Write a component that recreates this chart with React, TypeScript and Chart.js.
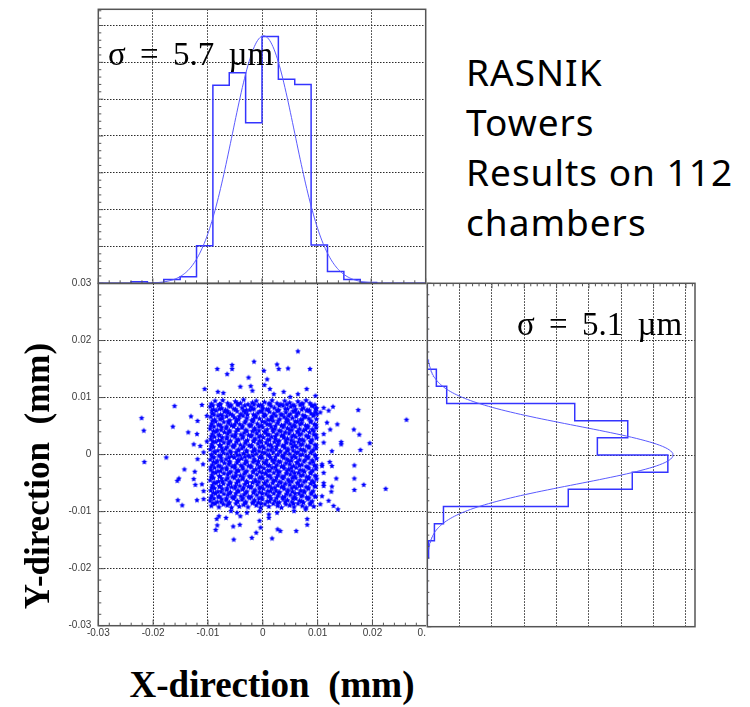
import React, { useEffect, useRef } from "react";
import { Chart, registerables } from "chart.js";

Chart.register(...registerables);

// ---------- data ----------

// Histogram bin edges in µm (3 µm bins over ±30 µm)
const binEdgesUm = [-30, -27, -24, -21, -18, -15, -12, -9, -6, -3, 0, 3, 6, 9, 12, 15, 18, 21, 24, 27, 30];
// Entries per bin, X projection (top panel)
const xCounts = [0, 0, 2, 0, 5, 9, 51, 269, 286, 218, 335, 277, 270, 52, 16, 5, 1, 0, 0, 0];
// Entries per bin, Y projection (right panel)
const yCounts = [0, 0, 0, 0, 2, 11, 25, 218, 317, 372, 263, 310, 228, 30, 14, 0, 0, 0, 0, 0];

// Gaussian fits of the two projections
const xFit = { amplitude: 336, meanUm: 0.3, sigmaUm: 5.7, fromUm: -24, toUm: 21 };
const yFit = { amplitude: 380, meanUm: 0, sigmaUm: 5.1, fromUm: -16.5, toUm: 16.7 };

// Axis values (mm for positions, entries for the projections)
const mmTickLabels = [-0.03, -0.02, -0.01, 0, 0.01, 0.02, 0.03];
const mmGrid = [-0.02, -0.01, 0, 0.01, 0.02];
const countGrid = [50, 100, 150, 200, 250, 300, 350, 400];
const xHistMax = 372;
const yHistMax = 414;

const titleLines = ["RASNIK", "Towers", "Results on 112", "chambers"];
const xAxisTitle = "X-direction  (mm)";
const yAxisTitle = "Y-direction  (mm)";

// Tower residuals (x, y) in units of 0.1 µm – scattered points outside the core
const outerPts: [number, number][] = [
  [-221, 64], [-217, 42], [-216, -13], [-176, -5], [-161, 85], [-164, 49], [-136, 39], [-131, 67],
  [-143, -26], [-153, -42], [-156, -46], [-155, -80], [-147, -89], [-124, -30], [-126, -43], [-123, -53],
  [-119, -8], [-120, -80], [-126, 18], [-120, 36], [-119, 59], [-111, 87], [-106, 115], [-108, 4],
  [-109, -17], [-111, -52], [-108, -78], [-108, -64], [-102, 23], [-114, 15], [-102, 68], [-83, 150],
  [-65, 141], [-56, 157], [-56, 150], [-82, 110], [-72, 108], [-41, 119], [-26, 135], [-16, 163],
  [-22, 120], [-19, 112], [2, 147], [8, 132], [3, 122], [13, 115], [26, 158], [29, 150],
  [46, 151], [64, 181], [86, 150], [80, 115], [64, 106], [38, 110], [20, 106], [50, 101],
  [96, 103], [99, 71], [105, 74], [111, 82], [120, 77], [128, 84], [117, 56], [111, 36],
  [123, 44], [111, 21], [136, 53], [126, 6], [143, 22], [143, 18], [166, 44], [176, 35],
  [174, 78], [178, 8], [195, 20], [262, 61], [167, -19], [167, -42], [167, -62], [184, -53],
  [224, -60], [137, -96], [134, -42], [126, -56], [125, -65], [120, -81], [129, -90], [126, -20],
  [122, -13], [111, -32], [111, -55], [108, -17], [108, -73], [111, -50], [105, -87], [108, -20],
  [81, -113], [81, -123], [61, -134], [32, -134], [27, -131], [17, -147], [11, -105], [11, -111],
  [-6, -116], [-4, -128], [-12, -137], [-20, -146], [-53, -149], [-54, -126], [-42, -123], [-41, -108],
  [-67, -111], [-80, -108], [-84, -113], [-83, -124], [-86, -132], [-58, -99], [-47, -102], [-29, -102],
  [-6, -99], [26, -102], [57, -99], [78, -96],
];

// Tower residuals (x, y) in units of 0.1 µm – dense core within about ±10 µm
const corePts: [number, number][] = [
  [-94, 89], [-87, 94], [-79, 88], [-73, 95], [-64, 90], [-58, 87], [-50, 93], [-41, 90], [-35, 96], [-27, 88], [-19, 91], [-12, 94], [-4, 87], [3, 92], [11, 89], [17, 95], [26, 90], [33, 88], [40, 94], [49, 91], [55, 87], [64, 93], [71, 89], [79, 95], [86, 90], [95, 87],
  [-91, 86], [-77, 88], [-62, 85], [-46, 89], [-33, 86], [-16, 88], [-1, 85], [13, 89], [30, 86], [44, 88], [58, 85], [73, 89], [89, 86],
  [-96, 84], [-90, 79], [-81, 86], [-75, 81], [-68, 78], [-59, 85], [-53, 80], [-45, 87], [-38, 82], [-30, 78], [-22, 84], [-16, 80], [-8, 86], [0, 81], [7, 79], [15, 85], [21, 82], [29, 78], [37, 86], [45, 80], [51, 84], [60, 79], [68, 87], [74, 82], [82, 78], [91, 85], [98, 81],
  [-93, 77], [-79, 80], [-64, 76], [-50, 79], [-35, 77], [-19, 80], [-5, 76], [10, 79], [26, 77], [41, 80], [55, 76], [71, 79], [85, 77], [96, 80],
  [-92, 72], [-85, 77], [-77, 70], [-70, 75], [-63, 73], [-55, 69], [-47, 76], [-40, 71], [-32, 74], [-24, 78], [-17, 70], [-9, 73], [-2, 76], [5, 69], [12, 75], [20, 72], [28, 77], [35, 70], [42, 74], [50, 71], [58, 76], [65, 73], [73, 69], [80, 77], [88, 72], [96, 75],
  [-89, 70], [-74, 68], [-59, 71], [-43, 67], [-28, 70], [-13, 68], [2, 71], [17, 67], [33, 70], [47, 68], [62, 71], [78, 67], [93, 70],
  [-95, 66], [-88, 61], [-82, 68], [-74, 63], [-66, 67], [-60, 60], [-52, 65], [-44, 62], [-36, 68], [-29, 64], [-20, 60], [-13, 66], [-6, 63], [2, 67], [9, 61], [16, 65], [24, 68], [31, 62], [39, 66], [46, 60], [54, 64], [61, 67], [69, 61], [76, 66], [84, 63], [92, 68], [98, 62],
  [-92, 59], [-78, 62], [-63, 58], [-48, 61], [-31, 59], [-17, 62], [-1, 58], [14, 61], [28, 59], [43, 62], [59, 58], [72, 61], [88, 59],
  [-93, 54], [-86, 58], [-78, 52], [-71, 57], [-62, 55], [-57, 51], [-48, 58], [-42, 53], [-33, 56], [-25, 52], [-18, 58], [-10, 54], [-3, 51], [4, 57], [13, 53], [19, 59], [27, 55], [34, 51], [43, 57], [49, 54], [57, 52], [63, 58], [71, 55], [78, 51], [87, 57], [94, 53],
  [-95, 50], [-81, 52], [-66, 49], [-51, 53], [-37, 50], [-21, 52], [-7, 49], [8, 53], [23, 50], [39, 52], [53, 49], [68, 53], [82, 50], [97, 52],
  [-96, 45], [-89, 49], [-83, 43], [-75, 48], [-67, 46], [-61, 42], [-53, 49], [-46, 44], [-38, 47], [-31, 43], [-23, 50], [-15, 46], [-7, 42], [0, 48], [8, 44], [15, 49], [22, 45], [30, 42], [37, 48], [45, 46], [53, 43], [59, 49], [67, 45], [74, 42], [82, 48], [90, 44], [97, 47],
  [-90, 41], [-76, 43], [-60, 40], [-45, 44], [-29, 41], [-14, 43], [3, 40], [18, 44], [33, 41], [49, 43], [63, 40], [78, 44], [93, 41],
  [-92, 36], [-85, 40], [-79, 34], [-70, 39], [-64, 37], [-56, 33], [-49, 40], [-40, 35], [-34, 38], [-26, 34], [-19, 41], [-11, 37], [-4, 33], [5, 39], [11, 35], [19, 40], [26, 36], [34, 33], [41, 39], [48, 37], [56, 34], [64, 40], [70, 36], [79, 33], [85, 39], [93, 35],
  [-94, 32], [-80, 34], [-65, 31], [-50, 35], [-36, 32], [-20, 34], [-7, 31], [8, 35], [23, 32], [38, 34], [53, 31], [67, 35], [83, 32], [97, 34],
  [-95, 27], [-88, 31], [-81, 25], [-74, 30], [-66, 28], [-59, 24], [-51, 31], [-44, 26], [-37, 29], [-28, 25], [-22, 32], [-14, 28], [-6, 24], [1, 30], [9, 26], [16, 31], [23, 27], [30, 24], [38, 30], [45, 28], [52, 25], [60, 31], [67, 27], [75, 24], [83, 30], [90, 26], [98, 29],
  [-91, 23], [-76, 25], [-62, 22], [-47, 26], [-31, 23], [-16, 25], [-3, 22], [12, 26], [28, 23], [42, 25], [57, 22], [72, 26], [87, 23],
  [-93, 18], [-86, 22], [-77, 16], [-71, 21], [-63, 19], [-55, 15], [-48, 22], [-41, 17], [-32, 20], [-25, 16], [-17, 23], [-9, 19], [-1, 15], [6, 21], [14, 17], [21, 22], [28, 18], [36, 15], [43, 21], [51, 19], [58, 16], [65, 22], [72, 18], [80, 15], [88, 21], [95, 17],
  [-94, 14], [-79, 16], [-65, 13], [-51, 17], [-35, 14], [-21, 16], [-6, 13], [10, 17], [25, 14], [39, 16], [54, 13], [69, 17], [84, 14], [97, 16],
  [-96, 9], [-90, 13], [-82, 7], [-75, 12], [-68, 10], [-60, 6], [-53, 13], [-45, 8], [-38, 11], [-30, 7], [-21, 14], [-15, 10], [-7, 6], [2, 12], [9, 8], [17, 13], [24, 9], [32, 6], [40, 12], [46, 10], [55, 7], [62, 13], [69, 9], [77, 6], [84, 12], [92, 8], [97, 11],
  [-89, 5], [-74, 7], [-58, 4], [-44, 8], [-29, 5], [-15, 7], [-1, 4], [15, 8], [31, 5], [45, 7], [60, 4], [74, 8], [90, 5],
  [-94, 0], [-87, 4], [-80, -2], [-72, 3], [-65, 1], [-57, -3], [-49, 4], [-42, -1], [-35, 2], [-27, -2], [-19, 5], [-12, 1], [-3, -3], [4, 3], [12, -1], [19, 4], [27, 0], [35, -3], [41, 3], [49, 1], [57, -2], [64, 4], [72, 0], [79, -3], [87, 3], [95, -1],
  [-92, -4], [-77, -2], [-62, -5], [-47, -1], [-33, -4], [-18, -2], [-6, -5], [9, -1], [23, -4], [38, -2], [53, -5], [68, -1], [83, -4], [96, -2],
  [-96, -9], [-89, -5], [-83, -11], [-76, -6], [-67, -8], [-61, -12], [-52, -5], [-46, -10], [-39, -7], [-31, -11], [-24, -4], [-16, -8], [-8, -12], [-1, -6], [7, -10], [14, -5], [22, -9], [29, -12], [38, -6], [44, -8], [52, -11], [60, -5], [67, -9], [75, -12], [82, -6], [90, -10], [98, -7],
  [-90, -13], [-75, -11], [-60, -14], [-44, -10], [-29, -13], [-14, -11], [2, -14], [17, -10], [32, -13], [47, -11], [62, -14], [77, -10], [92, -13],
  [-92, -18], [-85, -14], [-78, -20], [-70, -15], [-62, -17], [-56, -21], [-47, -14], [-40, -19], [-33, -16], [-26, -20], [-18, -13], [-10, -17], [-4, -21], [5, -15], [12, -19], [20, -14], [26, -18], [34, -21], [42, -15], [49, -17], [56, -20], [63, -14], [71, -18], [79, -21], [86, -15], [94, -19],
  [-95, -22], [-81, -20], [-66, -23], [-51, -19], [-37, -22], [-22, -20], [-7, -23], [9, -19], [23, -22], [38, -20], [52, -23], [67, -19], [82, -22], [97, -20],
  [-95, -27], [-88, -23], [-82, -29], [-74, -24], [-66, -26], [-58, -30], [-51, -23], [-44, -28], [-36, -25], [-29, -29], [-21, -22], [-13, -26], [-6, -30], [2, -24], [9, -28], [17, -23], [25, -27], [31, -30], [39, -24], [47, -26], [53, -29], [61, -23], [68, -27], [76, -30], [84, -24], [91, -28], [97, -25],
  [-91, -31], [-77, -29], [-61, -32], [-47, -28], [-32, -31], [-17, -29], [-1, -32], [13, -28], [28, -31], [44, -29], [58, -32], [73, -28], [88, -31],
  [-93, -36], [-86, -32], [-79, -38], [-71, -33], [-64, -35], [-55, -39], [-49, -32], [-41, -37], [-34, -34], [-25, -38], [-18, -31], [-11, -35], [-2, -39], [5, -33], [13, -37], [20, -32], [28, -36], [35, -39], [43, -33], [50, -35], [58, -38], [65, -32], [73, -36], [80, -39], [87, -33], [95, -37],
  [-94, -40], [-79, -38], [-64, -41], [-49, -37], [-36, -40], [-21, -38], [-6, -41], [9, -37], [25, -40], [39, -38], [54, -41], [69, -37], [84, -40], [97, -38],
  [-96, -45], [-90, -41], [-81, -47], [-75, -42], [-67, -44], [-60, -48], [-52, -41], [-45, -46], [-37, -43], [-30, -47], [-22, -40], [-14, -44], [-7, -48], [0, -42], [8, -46], [15, -41], [23, -45], [30, -48], [37, -42], [46, -44], [53, -47], [60, -41], [68, -45], [75, -48], [83, -42], [90, -46], [98, -43],
  [-89, -49], [-74, -47], [-59, -50], [-44, -46], [-28, -49], [-13, -47], [3, -50], [19, -46], [33, -49], [48, -47], [63, -50], [78, -46], [93, -49],
  [-92, -54], [-85, -50], [-78, -56], [-72, -51], [-63, -53], [-57, -57], [-48, -50], [-42, -55], [-33, -52], [-26, -56], [-19, -49], [-10, -53], [-3, -57], [4, -51], [12, -55], [18, -50], [27, -54], [34, -57], [41, -51], [49, -53], [57, -56], [64, -50], [71, -54], [79, -57], [87, -51], [94, -55],
  [-93, -58], [-79, -56], [-65, -59], [-50, -55], [-35, -58], [-21, -56], [-6, -59], [8, -55], [22, -58], [38, -56], [53, -59], [67, -55], [83, -58], [96, -56],
  [-95, -63], [-88, -59], [-82, -65], [-74, -60], [-66, -62], [-59, -66], [-51, -59], [-44, -64], [-37, -61], [-29, -65], [-22, -58], [-14, -62], [-6, -66], [1, -60], [9, -64], [16, -59], [24, -63], [31, -66], [39, -60], [46, -62], [54, -65], [61, -59], [69, -63], [76, -66], [83, -60], [92, -64],
  [-90, -67], [-76, -65], [-61, -68], [-46, -64], [-31, -67], [-16, -65], [-1, -68], [14, -64], [29, -67], [45, -65], [59, -68], [75, -64], [89, -67],
  [-93, -72], [-86, -68], [-79, -74], [-71, -69], [-64, -71], [-56, -75], [-49, -68], [-40, -73], [-34, -70], [-26, -74], [-17, -67], [-11, -71], [-2, -75], [6, -69], [13, -73], [20, -68], [28, -72], [36, -75], [43, -69], [50, -71], [58, -74], [66, -68], [72, -72], [80, -75], [88, -69], [95, -73],
  [-95, -76], [-81, -74], [-66, -77], [-51, -73], [-36, -76], [-21, -74], [-7, -77], [10, -73], [25, -76], [40, -74], [55, -77], [70, -73], [84, -76], [96, -74],
  [-96, -81], [-89, -77], [-83, -83], [-75, -78], [-67, -80], [-61, -84], [-53, -77], [-46, -82], [-38, -79], [-31, -83], [-24, -76], [-15, -80], [-8, -84], [-1, -78], [8, -82], [15, -77], [22, -81], [30, -84], [37, -78], [45, -80], [53, -83], [60, -77], [67, -81], [74, -84], [82, -78], [90, -82],
  [-91, -85], [-76, -83], [-62, -86], [-47, -82], [-32, -85], [-17, -83], [-3, -86], [12, -82], [27, -85], [41, -83], [56, -86], [71, -82], [87, -85],
  [-94, -90], [-87, -86], [-80, -92], [-72, -87], [-65, -89], [-57, -93], [-49, -86], [-43, -91], [-35, -88], [-27, -92], [-19, -85], [-12, -89], [-4, -93], [4, -87], [11, -91], [19, -86], [27, -90], [34, -93], [42, -87], [49, -89], [57, -92], [64, -86], [72, -90], [79, -93], [86, -87], [93, -91],
];

// ---------- styling ----------

const FRAME = "#555555";
const GRID = "#2a2a2a";
const HIST_BLUE = "#3434ff";
const FIT_BLUE = "#5a5aff";
const STAR_BLUE = "#0000ff";
const TICK_FONT = { family: "'Liberation Sans', Arial, sans-serif", size: 10 };

// ---------- helpers ----------

const umToMm = (u: number) => u / 1000;

// Step-outline of a histogram as (binPosition, entries) pairs
function stepOutline(edges: number[], counts: number[]): [number, number][] {
  const pts: [number, number][] = [[edges[0], 0]];
  counts.forEach((c, i) => {
    pts.push([edges[i], c]);
    pts.push([edges[i + 1], c]);
  });
  pts.push([edges[edges.length - 1], 0]);
  return pts;
}

// Gaussian fit curve as (position, value) pairs
function gaussCurve(f: { amplitude: number; meanUm: number; sigmaUm: number; fromUm: number; toUm: number }) {
  const pts: [number, number][] = [];
  const n = Math.round((f.toUm - f.fromUm) / 0.2);
  for (let i = 0; i <= n; i++) {
    const u = f.fromUm + i * 0.2;
    const z = (u - f.meanUm) / f.sigmaUm;
    pts.push([u, f.amplitude * Math.exp(-0.5 * z * z)]);
  }
  return pts;
}

// Filled five-point star used as point marker
function makeStar(r: number, color: string) {
  const size = Math.ceil(r * 2 + 2);
  const c = document.createElement("canvas");
  c.width = size;
  c.height = size;
  const g = c.getContext("2d")!;
  g.fillStyle = color;
  g.beginPath();
  for (let i = 0; i < 10; i++) {
    const rad = i % 2 ? r * 0.48 : r;
    const a = -Math.PI / 2 + (i * Math.PI) / 5;
    g.lineTo(size / 2 + rad * Math.cos(a), size / 2 + rad * Math.sin(a));
  }
  g.closePath();
  g.fill();
  return c;
}

type TickSpec = {
  scaleId: string;
  edge: "left" | "bottom" | "top";
  from: number;
  to: number;
  step: number;
  major: number;
  minorLen: number;
  majorLen: number;
};

// Box frame with inward tick marks
function framePlugin(specs: TickSpec[]) {
  return {
    id: "frameTicks",
    afterDraw(chart: any) {
      const { ctx, chartArea: a } = chart;
      ctx.save();
      ctx.strokeStyle = FRAME;
      ctx.lineWidth = 1;
      for (const s of specs) {
        const scale = chart.scales[s.scaleId];
        const n = Math.round((s.to - s.from) / s.step);
        for (let i = 0; i <= n; i++) {
          const v = s.from + i * s.step;
          const r = v / s.major;
          const len = Math.abs(r - Math.round(r)) < 1e-6 ? s.majorLen : s.minorLen;
          const p = scale.getPixelForValue(v);
          ctx.beginPath();
          if (s.edge === "left") {
            ctx.moveTo(a.left, p);
            ctx.lineTo(a.left + len, p);
          } else if (s.edge === "bottom") {
            ctx.moveTo(p, a.bottom);
            ctx.lineTo(p, a.bottom - len);
          } else {
            ctx.moveTo(p, a.top);
            ctx.lineTo(p, a.top + len);
          }
          ctx.stroke();
        }
      }
      ctx.lineWidth = 1.5;
      ctx.strokeRect(a.left, a.top, a.right - a.left, a.bottom - a.top);
      ctx.restore();
    },
  };
}

function gridAxis(min: number, max: number, grid: number[], sizeKey: "width" | "height", size: number, extra: any = {}) {
  return {
    type: "linear",
    min,
    max,
    afterBuildTicks: (s: any) => {
      s.ticks = grid.map((v) => ({ value: v }));
    },
    afterFit: (s: any) => {
      s[sizeKey] = size;
    },
    ticks: { display: false },
    grid: { color: GRID, lineWidth: 1, drawTicks: false },
    border: { display: false, dash: [1.5, 1.5] },
    ...extra,
  };
}

const fmtMm = (v: number) => (Math.abs(v) < 1e-9 ? "0" : v.toFixed(2));

// ---------- chart configs ----------

function topConfig(): any {
  const hist = stepOutline(binEdgesUm, xCounts).map(([u, c]) => ({ x: umToMm(u), y: c }));
  const fit = gaussCurve(xFit).map(([u, c]) => ({ x: umToMm(u), y: c }));
  return {
    type: "scatter",
    data: {
      datasets: [
        { data: fit, showLine: true, borderColor: FIT_BLUE, borderWidth: 1, pointRadius: 0 },
        { data: hist, showLine: true, borderColor: HIST_BLUE, borderWidth: 1.5, pointRadius: 0 },
      ],
    },
    options: {
      responsive: false,
      animation: false,
      events: [],
      layout: { padding: { left: 98.3, top: 9.3, right: 14.3, bottom: 6.7 } },
      plugins: { legend: { display: false }, tooltip: { enabled: false } },
      scales: {
        x: gridAxis(-0.03, 0.03, mmGrid, "height", 0),
        y: gridAxis(0, xHistMax, countGrid, "width", 0),
      },
    },
    plugins: [
      framePlugin([
        { scaleId: "y", edge: "left", from: 0, to: 370, step: 10, major: 50, minorLen: 3, majorLen: 5 },
        { scaleId: "x", edge: "bottom", from: -0.03, to: 0.03, step: 0.002, major: 0.01, minorLen: 3, majorLen: 5 },
      ]),
    ],
  };
}

function scatterConfig(): any {
  const coreStar = makeStar(3.3, STAR_BLUE);
  const outerStar = makeStar(3, STAR_BLUE);
  const toMm = ([x, y]: [number, number]) => ({ x: x / 10000, y: y / 10000 });
  const labelled = (sizeKey: "width" | "height", size: number) => ({
    type: "linear",
    min: -0.03,
    max: 0.03,
    afterBuildTicks: (s: any) => {
      s.ticks = mmTickLabels.map((v) => ({ value: v }));
    },
    afterFit: (s: any) => {
      s[sizeKey] = size;
    },
    ticks: {
      display: true,
      autoSkip: false,
      maxRotation: 0,
      padding: sizeKey === "width" ? 7 : 2,
      font: TICK_FONT,
      color: "#3a3a3a",
      callback: (v: number) => fmtMm(v),
    },
    grid: {
      drawTicks: false,
      lineWidth: 1,
      color: (c: any) => (c.tick && Math.abs(Math.abs(c.tick.value) - 0.03) < 1e-9 ? "rgba(0,0,0,0)" : GRID),
    },
    border: { display: false, dash: [1.5, 1.5] },
  });
  return {
    type: "scatter",
    data: {
      datasets: [
        { data: corePts.map(toMm), pointStyle: coreStar, pointRadius: 3, borderWidth: 0 },
        { data: outerPts.map(toMm), pointStyle: outerStar, pointRadius: 3, borderWidth: 0 },
      ],
    },
    options: {
      responsive: false,
      animation: false,
      events: [],
      layout: { padding: { left: 0, top: 13.5, right: 12.7, bottom: 0 } },
      plugins: { legend: { display: false }, tooltip: { enabled: false } },
      scales: {
        x: labelled("height", 24.3),
        y: labelled("width", 98.3),
      },
    },
    plugins: [
      framePlugin([
        { scaleId: "y", edge: "left", from: -0.03, to: 0.03, step: 0.002, major: 0.01, minorLen: 3, majorLen: 6 },
        { scaleId: "x", edge: "bottom", from: -0.03, to: 0.03, step: 0.002, major: 0.01, minorLen: 3, majorLen: 6 },
      ]),
    ],
  };
}

function rightConfig(): any {
  const hist = stepOutline(binEdgesUm, yCounts).map(([u, c]) => ({ x: c, y: umToMm(u) }));
  const fit = gaussCurve(yFit).map(([u, c]) => ({ x: c, y: umToMm(u) }));
  return {
    type: "scatter",
    data: {
      datasets: [
        { data: fit, showLine: true, borderColor: FIT_BLUE, borderWidth: 1, pointRadius: 0 },
        { data: hist, showLine: true, borderColor: HIST_BLUE, borderWidth: 1.5, pointRadius: 0 },
      ],
    },
    options: {
      responsive: false,
      animation: false,
      events: [],
      layout: { padding: { left: 1.3, top: 7.3, right: 55, bottom: 9.3 } },
      plugins: { legend: { display: false }, tooltip: { enabled: false } },
      scales: {
        x: gridAxis(0, yHistMax, countGrid, "height", 0),
        y: gridAxis(-0.03, 0.03, mmGrid, "width", 0),
      },
    },
    plugins: [
      framePlugin([
        { scaleId: "x", edge: "top", from: 0, to: 410, step: 10, major: 50, minorLen: 3, majorLen: 5 },
        { scaleId: "y", edge: "left", from: -0.03, to: 0.03, step: 0.002, major: 0.01, minorLen: 2, majorLen: 4 },
      ]),
    ],
  };
}

// ---------- component ----------

function ChartCanvas(props: { make: () => any; left: number; top: number; width: number; height: number; bg?: string }) {
  const ref = useRef<HTMLCanvasElement | null>(null);
  useEffect(() => {
    if (!ref.current) return;
    const chart = new Chart(ref.current, props.make());
    return () => chart.destroy();
  }, []);
  return (
    <canvas
      ref={ref}
      width={props.width}
      height={props.height}
      style={{
        position: "absolute",
        left: props.left,
        top: props.top,
        width: props.width,
        height: props.height,
        background: props.bg || "transparent",
      }}
    />
  );
}

const serif = "'Liberation Serif', 'Times New Roman', serif";

export default function App() {
  const sigmaStyle: React.CSSProperties = {
    position: "absolute",
    fontFamily: serif,
    fontSize: 33,
    lineHeight: "36px",
    wordSpacing: 6,
    whiteSpace: "pre",
    color: "#000",
  };
  return (
    <div style={{ position: "absolute", left: 0, top: 0, width: 750, height: 707, background: "#fff", overflow: "hidden" }}>
      <ChartCanvas make={scatterConfig} left={0} top={270} width={440} height={380} />
      <ChartCanvas make={rightConfig} left={426} top={276} width={324} height={360} bg="#fff" />
      <ChartCanvas make={topConfig} left={0} top={0} width={440} height={290} />

      <div style={{ ...sigmaStyle, left: 108, top: 35.6 }}>{`σ = ${xFit.sigmaUm} µm`}</div>
      <div style={{ ...sigmaStyle, left: 517, top: 305.6 }}>{`σ = ${yFit.sigmaUm} µm`}</div>

      <div
        style={{
          position: "absolute",
          left: 466,
          top: 46.6,
          fontFamily: "'Comic Sans MS', 'Noto Sans', sans-serif",
          fontSize: 37,
          lineHeight: "50px",
          letterSpacing: 1,
          color: "#000",
          whiteSpace: "pre",
        }}
      >
        {titleLines.map((t) => (
          <div key={t}>{t}</div>
        ))}
      </div>

      <div
        style={{
          position: "absolute",
          left: 122,
          width: 300,
          top: 665,
          textAlign: "center",
          fontFamily: serif,
          fontWeight: "bold",
          fontSize: 37,
          lineHeight: "40px",
          whiteSpace: "pre",
          color: "#000",
        }}
      >
        {xAxisTitle}
      </div>
      <div
        style={{
          position: "absolute",
          left: 38 - 150,
          top: 476 - 20,
          width: 300,
          height: 40,
          textAlign: "center",
          transform: "rotate(-90deg)",
          fontFamily: serif,
          fontWeight: "bold",
          fontSize: 35,
          lineHeight: "40px",
          whiteSpace: "pre",
          color: "#000",
        }}
      >
        {yAxisTitle}
      </div>
    </div>
  );
}
